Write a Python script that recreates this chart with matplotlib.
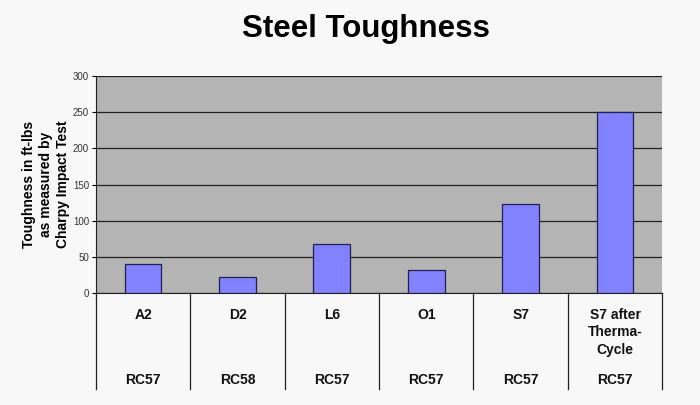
import matplotlib
matplotlib.use('Agg')
import matplotlib.pyplot as plt
import matplotlib.transforms as mtrans

steels = ['A2', 'D2', 'L6', 'O1', 'S7', 'S7 after\nTherma-\nCycle']
hardness = ['RC57', 'RC58', 'RC57', 'RC57', 'RC57', 'RC57']
toughness = [40, 22, 68, 32, 123, 250]

plt.rcParams['font.family'] = ['Liberation Sans', 'DejaVu Sans']

fig = plt.figure(figsize=(7, 4.05), dpi=100, facecolor='#f8f8f8')
ax = fig.add_axes([0.137, 0.2765, 0.809, 0.5358])
ax.set_facecolor('#b4b4b4')

x = range(len(steels))
ax.bar(x, toughness, width=0.39, color='#8282ff', edgecolor='#202050', linewidth=0.9, zorder=3)

ax.set_xlim(-0.5, len(steels) - 0.5)
ax.set_ylim(0, 300)
ax.set_yticks(range(0, 301, 50))
ax.tick_params(axis='y', labelsize=7, labelcolor='#333333', length=3, width=0.8, pad=2)
ax.set_xticks([])
ax.yaxis.grid(True, color='#202020', linewidth=0.9, zorder=1)
for s in ['top', 'right']:
    ax.spines[s].set_visible(False)
ax.spines['bottom'].set_color('#202020')
ax.spines['left'].set_color('#202020')

# category table below the plot
trans = mtrans.blended_transform_factory(ax.transData, ax.transAxes)
bot = -(389 - 293) / 217.0
for b in [i - 0.5 for i in range(len(steels) + 1)]:
    ax.plot([b, b], [0, bot], transform=trans, color='#202020', linewidth=0.9, clip_on=False)
for i in x:
    ax.text(i, -(308 - 293) / 217.0, steels[i], transform=trans, ha='center', va='top',
            fontsize=10, fontweight='bold', color='#111111', linespacing=1.3)
    ax.text(i, -(380 - 293) / 217.0, hardness[i], transform=trans, ha='center', va='center',
            fontsize=10, fontweight='bold', color='#111111')

fig.text(0.066, 0.5457, 'Toughness in ft-lbs\nas measured by\nCharpy Impact Test', fontsize=10,
         fontweight='bold', linespacing=1.25, rotation=90, ha='center', va='center',
         multialignment='center')
fig.text(0.523, 0.9086, 'Steel Toughness', ha='center', va='baseline', fontsize=22.5,
         fontweight='bold')

fig.savefig('out.png', dpi=100, facecolor=fig.get_facecolor())
